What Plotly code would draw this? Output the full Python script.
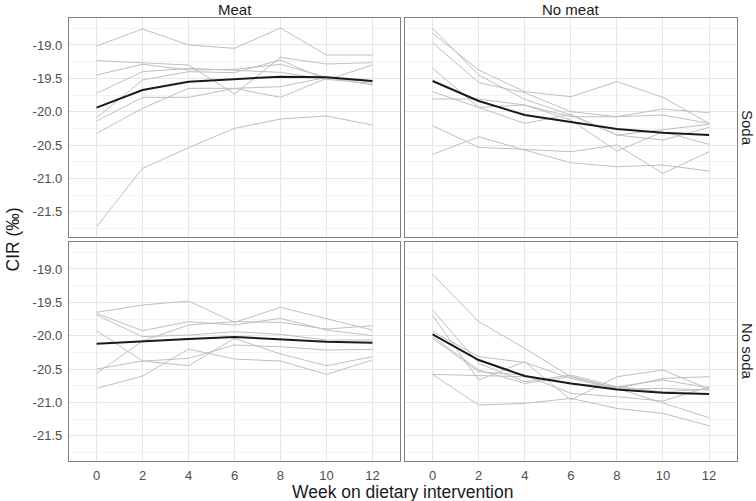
import plotly.graph_objects as go

weeks = [0, 2, 4, 6, 8, 10, 12]
y_ticks = [-19.0, -19.5, -20.0, -20.5, -21.0, -21.5]
y_tick_labels = ["-19.0", "-19.5", "-20.0", "-20.5", "-21.0", "-21.5"]
meat_labels = ["Meat", "No meat"]
soda_labels = ["Soda", "No soda"]

# Meat / Soda
meat_soda_subjects = [
    [-19.015, -18.76, -19.0, -19.05, -18.745, -19.15, -19.15],
    [-19.235, -19.265, -19.30, -19.735, -19.185, -19.285, -19.265],
    [-19.45, -19.29, -19.375, -19.365, -19.29, -19.485, -19.60],
    [-19.725, -19.40, -19.35, -19.385, -19.41, -19.515, -19.575],
    [-20.09, -19.525, -19.40, -19.415, -19.225, -19.525, -19.30],
    [-20.14, -19.785, -19.785, -19.65, -19.625, -19.485, -19.55],
    [-20.325, -19.95, -19.65, -19.65, -19.785, -19.50, -19.54],
    [-21.725, -20.85, -20.54, -20.25, -20.11, -20.065, -20.20],
]
meat_soda_mean = [-19.94, -19.675, -19.55, -19.515, -19.475, -19.485, -19.54]

# No meat / Soda
nomeat_soda_subjects = [
    [-18.75, -19.45, -19.815, -20.05, -20.35, -20.275, -20.19],
    [-18.825, -19.375, -19.70, -19.775, -19.55, -19.785, -20.175],
    [-18.965, -19.565, -19.715, -20.0, -20.075, -19.96, -20.015],
    [-19.35, -19.935, -19.90, -20.125, -20.59, -20.30, -20.49],
    [-19.70, -19.935, -20.175, -20.04, -20.35, -20.425, -20.235],
    [-19.81, -19.81, -19.90, -20.075, -20.075, -20.05, -20.175],
    [-20.21, -20.535, -20.565, -20.60, -20.50, -20.925, -20.60],
    [-20.64, -20.375, -20.575, -20.765, -20.825, -20.80, -20.89],
]
nomeat_soda_mean = [-19.54, -19.84, -20.05, -20.16, -20.26, -20.315, -20.35]

# Meat / No soda
meat_nosoda_subjects = [
    [-19.65, -19.54, -19.48, -19.80, -19.575, -19.74, -19.915],
    [-19.665, -19.925, -19.79, -19.84, -19.74, -19.915, -20.0],
    [-19.69, -20.015, -19.99, -19.94, -19.98, -20.065, -20.065],
    [-19.925, -20.38, -20.34, -20.14, -20.165, -20.215, -20.205],
    [-20.50, -20.38, -20.45, -20.04, -20.275, -20.45, -20.315],
    [-20.565, -20.08, -19.84, -19.79, -19.80, -19.90, -19.85],
    [-20.79, -20.605, -20.20, -20.35, -20.38, -20.58, -20.365],
]
meat_nosoda_mean = [-20.12, -20.08, -20.05, -20.02, -20.055, -20.09, -20.105]

# No meat / No soda
nomeat_nosoda_subjects = [
    [-19.08, -19.79, -20.19, -20.615, -20.79, -21.015, -21.23],
    [-19.615, -20.415, -20.69, -20.59, -20.765, -20.665, -20.78],
    [-19.70, -20.665, -20.39, -20.965, -20.615, -20.515, -20.80],
    [-19.94, -20.315, -20.40, -20.64, -20.80, -20.79, -20.815],
    [-20.015, -20.515, -20.715, -20.615, -20.79, -20.64, -20.615],
    [-20.04, -20.54, -20.59, -20.865, -20.915, -20.98, -20.765],
    [-20.58, -20.60, -20.615, -20.715, -20.765, -20.84, -20.80],
    [-20.58, -21.04, -21.015, -20.94, -21.09, -21.165, -21.35],
]
nomeat_nosoda_mean = [-19.98, -20.365, -20.605, -20.715, -20.805, -20.855, -20.875]

panels = [
    (meat_soda_subjects, meat_soda_mean, ""),
    (nomeat_soda_subjects, nomeat_soda_mean, "2"),
    (meat_nosoda_subjects, meat_nosoda_mean, "3"),
    (nomeat_nosoda_subjects, nomeat_nosoda_mean, "4"),
]

W, H = 756, 501
left_x = (69, 400)
right_x = (405, 736.7)
top_y = (18.3, 236.7)
bot_y = (242.3, 460.7)

def xd(px):
    return [px[0] / W, px[1] / W]

def yd(py):
    return [1 - py[1] / H, 1 - py[0] / H]

fig = go.Figure()

grey = "#bfbfbf"
for subjects, mean, sfx in panels:
    xa = "x" + sfx
    ya = "y" + sfx
    for s in subjects:
        fig.add_trace(go.Scatter(x=weeks, y=s, mode="lines", xaxis=xa, yaxis=ya,
                                 line=dict(color=grey, width=1), showlegend=False,
                                 hoverinfo="skip"))
    fig.add_trace(go.Scatter(x=weeks, y=mean, mode="lines", xaxis=xa, yaxis=ya,
                             line=dict(color="#1a1a1a", width=2), showlegend=False))

font_family = "Liberation Sans, Arial, sans-serif"
tick_font = dict(family=font_family, size=13, color="#4d4d4d")
border = "#7f7f7f"
xr = [-1.2, 13.2]
yr = [-21.874, -18.6]

def xaxis(domain, anchor, show_labels):
    return dict(domain=domain, anchor=anchor, range=xr, tickvals=weeks,
                ticktext=[str(w) for w in weeks], showticklabels=show_labels,
                ticks="outside", ticklen=3, tickcolor="rgba(0,0,0,0)",
                showgrid=True, gridcolor="#e6e6e6", gridwidth=0.8,
                zeroline=False, showline=True, mirror=True, linecolor=border,
                linewidth=1.3, tickfont=tick_font)

def yaxis(domain, anchor, show_labels):
    return dict(domain=domain, anchor=anchor, range=yr, tickvals=y_ticks,
                ticktext=y_tick_labels, showticklabels=show_labels,
                ticks="outside", ticklen=3, tickcolor="rgba(0,0,0,0)",
                showgrid=True, gridcolor="#e6e6e6", gridwidth=0.8,
                minor=dict(tickvals=[-18.75, -19.25, -19.75, -20.25, -20.75, -21.25, -21.75],
                           showgrid=True, gridcolor="#f3f3f3", gridwidth=0.6, ticks=""),
                zeroline=False, showline=True, mirror=True, linecolor=border,
                linewidth=1.3, tickfont=tick_font)

fig.update_layout(
    width=W, height=H,
    margin=dict(l=0, r=0, t=0, b=0),
    paper_bgcolor="white", plot_bgcolor="white",
    xaxis=xaxis(xd(left_x), "y", False),
    yaxis=yaxis(yd(top_y), "x", True),
    xaxis2=xaxis(xd(right_x), "y2", False),
    yaxis2=yaxis(yd(top_y), "x2", False),
    xaxis3=xaxis(xd(left_x), "y3", True),
    yaxis3=yaxis(yd(bot_y), "x3", True),
    xaxis4=xaxis(xd(right_x), "y4", True),
    yaxis4=yaxis(yd(bot_y), "x4", False),
)

strip_font = dict(family=font_family, size=15, color="#1a1a1a")
title_font = dict(family=font_family, size=17.5, color="#1a1a1a")
ann = []
ann.append(dict(text=meat_labels[0], x=(left_x[0] + left_x[1]) / 2 / W, y=1 - 9 / H,
                xref="paper", yref="paper", showarrow=False, font=strip_font,
                xanchor="center", yanchor="middle"))
ann.append(dict(text=meat_labels[1], x=(right_x[0] + right_x[1]) / 2 / W, y=1 - 9 / H,
                xref="paper", yref="paper", showarrow=False, font=strip_font,
                xanchor="center", yanchor="middle"))
ann.append(dict(text=soda_labels[0], x=747.5 / W, y=1 - (top_y[0] + top_y[1]) / 2 / H,
                xref="paper", yref="paper", showarrow=False, font=strip_font,
                textangle=90, xanchor="center", yanchor="middle"))
ann.append(dict(text=soda_labels[1], x=747.5 / W, y=1 - (bot_y[0] + bot_y[1]) / 2 / H,
                xref="paper", yref="paper", showarrow=False, font=strip_font,
                textangle=90, xanchor="center", yanchor="middle"))
ann.append(dict(text="Week on dietary intervention", x=(left_x[0] + right_x[1]) / 2 / W,
                y=1 - 491.5 / H, xref="paper", yref="paper", showarrow=False,
                font=title_font, xanchor="center", yanchor="middle"))
ann.append(dict(text="CIR (‰)", x=12 / W, y=1 - (top_y[0] + bot_y[1]) / 2 / H,
                xref="paper", yref="paper", showarrow=False, font=title_font,
                textangle=-90, xanchor="center", yanchor="middle"))
fig.update_layout(annotations=ann)

# remove the default 8px page margin so the figure fills the window exactly
fig.write_html("out.html",
               config={"displayModeBar": False},
               post_script="document.body.style.margin='0';document.body.style.overflow='hidden';")
